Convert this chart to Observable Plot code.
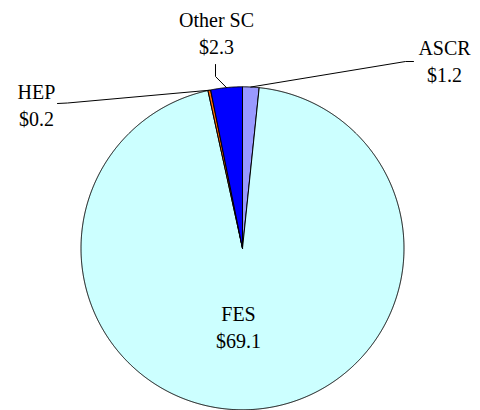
<!DOCTYPE html>
<html>
<head>
<meta charset="utf-8">
<script src="https://cdn.jsdelivr.net/npm/d3@7"></script>
<script src="https://cdn.jsdelivr.net/npm/@observablehq/plot@0.6"></script>
<style>
  html, body { margin: 0; padding: 0; background: #ffffff; }
  #chart { width: 480px; height: 410px; }
  #chart svg, #chart svg text { font-family: "Liberation Serif", "Times New Roman", "DejaVu Serif", serif !important; }
</style>
</head>
<body>
<div id="chart"></div>
<script>
// ---- data (clockwise from 12 o'clock) ----
const categories = ["ASCR", "FES", "HEP", "Other SC"];
const values = [1.2, 69.1, 0.2, 2.3];
const colors = ["#9999FF", "#CCFFFF", "#FF6600", "#0000FF"];

// ---- layout ----
const W = 480, H = 410;
const cx = 242, cy = 247.8, R = 161.5;
// label anchor (baseline of the last line), pixel space
const labelX = [444, 238, 36, 216];
const labelY = [81.5, 347, 125, 53];
// leader elbow points (null = no leader)
const leaderElbows = [
  [[413, 61], [405, 61]],
  null,
  [[57, 103], [67, 102.5]],
  [[215, 64], [215, 76]]
];

const total = d3.sum(values);
const slices = [];
const leaders = [];
const labels = [];
let start = 0;
categories.forEach((name, i) => {
  const span = values[i] / total * 2 * Math.PI;
  const end = start + span;
  const pts = [{name, x: cx, y: cy}];
  const n = Math.max(2, Math.ceil(span / (Math.PI / 720)));
  for (let k = 0; k <= n; k++) {
    const a = start + span * k / n;
    pts.push({name, x: cx + R * Math.sin(a), y: cy - R * Math.cos(a)});
  }
  pts.push({name, x: cx, y: cy});
  slices.push(...pts);
  const mid = (start + end) / 2;
  if (leaderElbows[i]) {
    leaderElbows[i].forEach(([x, y]) => leaders.push({name, x, y}));
    leaders.push({name, x: cx + R * Math.sin(mid), y: cy - R * Math.cos(mid)});
  }
  labels.push({name, x: labelX[i], y: labelY[i], text: name + "\n$" + values[i].toFixed(1)});
  start = end;
});

const chart = Plot.plot({
  width: W,
  height: H,
  margin: 0,
  x: {domain: [0, W], range: [0, W], axis: null},
  y: {domain: [0, H], range: [0, H], axis: null},
  color: {domain: categories, range: colors},
  style: {background: "#ffffff"},
  marks: [
    Plot.line(slices, {x: "x", y: "y", z: "name", fill: "name", stroke: "#000000", strokeWidth: 1, curve: "linear"}),
    Plot.line(leaders, {x: "x", y: "y", z: "name", stroke: "#000000", strokeWidth: 1}),
    Plot.text(labels, {x: "x", y: "y", text: "text", lineAnchor: "bottom", lineHeight: 1.35,
      fontSize: 20, fill: "#000000", textAnchor: "middle"})
  ]
});
document.getElementById("chart").appendChild(chart);
</script>
</body>
</html>
